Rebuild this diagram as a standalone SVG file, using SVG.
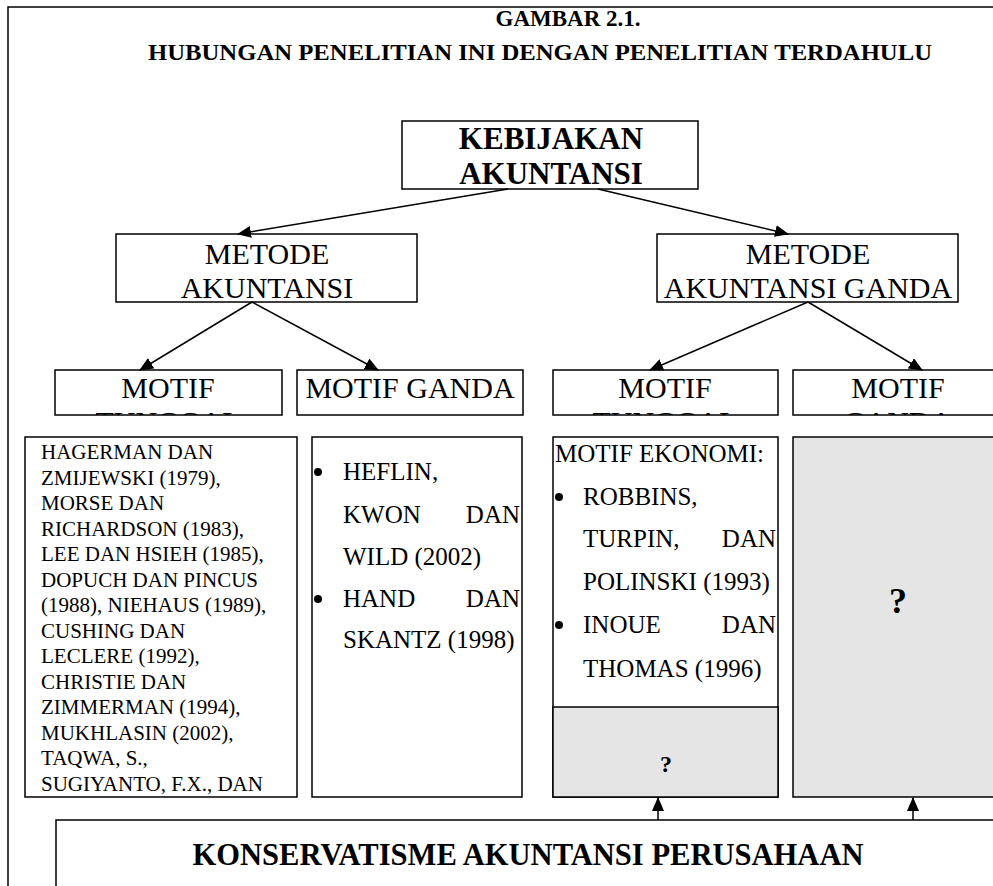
<svg xmlns="http://www.w3.org/2000/svg" width="993" height="886" viewBox="0 0 993 886">
  <style>
    text { font-family: "Liberation Serif", "Times New Roman", serif; fill: #000; }
    .box { fill: #fff; stroke: #000; stroke-width: 1.5; }
    .grey { fill: #e5e5e5; stroke: #000; stroke-width: 1.5; }
    .frame { fill: none; stroke: #000; stroke-width: 1.5; }
    .title { font-weight: bold; font-size: 24px; text-anchor: middle; }
    .head { font-weight: bold; font-size: 31px; text-anchor: middle; }
    .node { font-size: 30px; text-anchor: middle; }
    .list { font-size: 21px; }
    .ref { font-size: 25px; }
    .end { text-anchor: end; }
    .q { font-weight: bold; text-anchor: middle; }
    .conn line { stroke: #000; stroke-width: 1.5; marker-end: url(#arrow); }
  </style>
  <defs>
    <marker id="arrow" markerUnits="userSpaceOnUse" markerWidth="14" markerHeight="12" refX="13" refY="6" orient="auto">
      <path d="M0,0 L14,6 L0,12 Z" fill="#000"/>
    </marker>
    <clipPath id="clipMotif1"><rect x="55" y="370" width="227" height="45"/></clipPath>
    <clipPath id="clipMotif3"><rect x="553" y="370" width="225" height="45"/></clipPath>
    <clipPath id="clipMotif4"><rect x="793" y="370" width="210" height="45"/></clipPath>
    <clipPath id="clipList"><rect x="25" y="437" width="272" height="360"/></clipPath>
  </defs>

  <!-- page frame -->
  <path class="frame" d="M8,886 L8,7 L993,7"/>

  <g id="title">
    <text class="title" x="568" y="26" textLength="145" lengthAdjust="spacingAndGlyphs">GAMBAR 2.1.</text>
    <text class="title" x="540" y="60" textLength="784" lengthAdjust="spacingAndGlyphs">HUBUNGAN PENELITIAN INI DENGAN PENELITIAN TERDAHULU</text>
  </g>

  <g id="kebijakan">
    <rect class="box" x="402" y="121" width="296" height="68"/>
    <text class="head" x="551" y="149">KEBIJAKAN</text>
    <text class="head" x="551" y="184">AKUNTANSI</text>
  </g>

  <g id="metode-akuntansi">
    <rect class="box" x="116" y="234" width="301" height="68"/>
    <text class="node" x="267" y="264">METODE</text>
    <text class="node" x="267" y="298">AKUNTANSI</text>
  </g>

  <g id="metode-ganda">
    <rect class="box" x="657" y="234" width="301" height="68"/>
    <text class="node" x="808" y="264">METODE</text>
    <text class="node" x="808" y="298">AKUNTANSI GANDA</text>
  </g>

  <g id="motif-tunggal-1">
    <rect class="box" x="55" y="370" width="227" height="45"/>
    <g clip-path="url(#clipMotif1)">
      <text class="node" x="168" y="398">MOTIF</text>
      <text class="node" x="168" y="432">TUNGGAL</text>
    </g>
  </g>

  <g id="motif-ganda-1">
    <rect class="box" x="297" y="370" width="226" height="45"/>
    <text class="node" x="410" y="398">MOTIF GANDA</text>
  </g>

  <g id="motif-tunggal-2">
    <rect class="box" x="553" y="370" width="225" height="45"/>
    <g clip-path="url(#clipMotif3)">
      <text class="node" x="665" y="398">MOTIF</text>
      <text class="node" x="665" y="432">TUNGGAL</text>
    </g>
  </g>

  <g id="motif-ganda-2">
    <rect class="box" x="793" y="370" width="210" height="45"/>
    <g clip-path="url(#clipMotif4)">
      <text class="node" x="898" y="398">MOTIF</text>
      <text class="node" x="898" y="432">GANDA</text>
    </g>
  </g>

  <g id="studi-tunggal-1">
    <rect class="box" x="25" y="437" width="272" height="360"/>
    <text class="list" x="41" y="459" clip-path="url(#clipList)">
      <tspan x="41" dy="0">HAGERMAN DAN</tspan>
      <tspan x="41" dy="25.5">ZMIJEWSKI (1979),</tspan>
      <tspan x="41" dy="25.5">MORSE DAN</tspan>
      <tspan x="41" dy="25.5">RICHARDSON (1983),</tspan>
      <tspan x="41" dy="25.5">LEE DAN HSIEH (1985),</tspan>
      <tspan x="41" dy="25.5">DOPUCH DAN PINCUS</tspan>
      <tspan x="41" dy="25.5">(1988), NIEHAUS (1989),</tspan>
      <tspan x="41" dy="25.5">CUSHING DAN</tspan>
      <tspan x="41" dy="25.5">LECLERE (1992),</tspan>
      <tspan x="41" dy="25.5">CHRISTIE DAN</tspan>
      <tspan x="41" dy="25.5">ZIMMERMAN (1994),</tspan>
      <tspan x="41" dy="25.5">MUKHLASIN (2002),</tspan>
      <tspan x="41" dy="25.5">TAQWA, S.,</tspan>
      <tspan x="41" dy="25.5">SUGIYANTO, F.X., DAN</tspan>
    </text>
  </g>

  <g id="studi-ganda-1">
    <rect class="box" x="312" y="437" width="210" height="360"/>
    <circle cx="318" cy="472" r="4"/>
    <text class="ref" x="343" y="480">HEFLIN,</text>
    <text class="ref" x="343" y="523">KWON</text>
    <text class="ref end" x="520" y="523">DAN</text>
    <text class="ref" x="343" y="565">WILD (2002)</text>
    <circle cx="318" cy="599" r="4"/>
    <text class="ref" x="343" y="607">HAND</text>
    <text class="ref end" x="520" y="607">DAN</text>
    <text class="ref" x="343" y="648">SKANTZ (1998)</text>
  </g>

  <g id="studi-tunggal-2">
    <rect class="box" x="553" y="437" width="225" height="360"/>
    <rect class="grey" x="553" y="707" width="225" height="90"/>
    <text class="ref" x="555" y="462">MOTIF EKONOMI:</text>
    <circle cx="559" cy="497" r="4"/>
    <text class="ref" x="583" y="505">ROBBINS,</text>
    <text class="ref" x="583" y="547">TURPIN,</text>
    <text class="ref end" x="776" y="547">DAN</text>
    <text class="ref" x="583" y="590">POLINSKI (1993)</text>
    <circle cx="559" cy="625" r="4"/>
    <text class="ref" x="583" y="633">INOUE</text>
    <text class="ref end" x="776" y="633">DAN</text>
    <text class="ref" x="583" y="677">THOMAS (1996)</text>
    <text class="q" x="666" y="772" font-size="24">?</text>
  </g>

  <g id="studi-ganda-2">
    <rect class="grey" x="793" y="437" width="220" height="360"/>
    <text class="q" x="898" y="613" font-size="36">?</text>
  </g>

  <g id="konservatisme">
    <rect class="box" x="56" y="820" width="960" height="80"/>
    <text class="head" x="528" y="865" font-size="32" textLength="671" lengthAdjust="spacingAndGlyphs">KONSERVATISME AKUNTANSI PERUSAHAAN</text>
  </g>

  <g id="connectors" class="conn">
    <line x1="508" y1="189" x2="238" y2="234"/>
    <line x1="598" y1="189" x2="788" y2="234"/>
    <line x1="252" y1="302" x2="140" y2="370"/>
    <line x1="252" y1="302" x2="378" y2="370"/>
    <line x1="808" y1="302" x2="650" y2="370"/>
    <line x1="808" y1="302" x2="922" y2="370"/>
    <line x1="658" y1="820" x2="658" y2="798"/>
    <line x1="913" y1="820" x2="913" y2="798"/>
  </g>
</svg>
